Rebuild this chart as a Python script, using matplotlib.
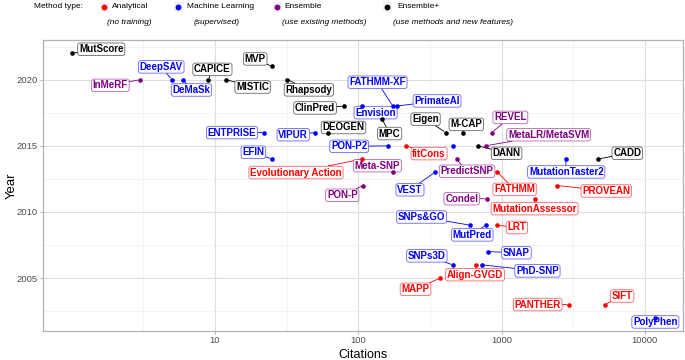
import numpy as np
import matplotlib
matplotlib.use("Agg")
import matplotlib.pyplot as plt
from matplotlib.colors import to_rgba
from matplotlib.lines import Line2D
from matplotlib.patches import Rectangle
from matplotlib.ticker import FixedLocator, NullFormatter

plt.rcParams["font.family"] = ["Liberation Sans", "DejaVu Sans"]

# data
methods = ["MutScore", "InMeRF", "DeepSAV", "DeMaSk", "CAPICE", "MISTIC", "MVP", "Rhapsody",
           "ClinPred", "Envision", "FATHMM-XF", "PrimateAI", "MPC", "ENTPRISE", "VIPUR", "DEOGEN",
           "Eigen", "M-CAP", "REVEL", "PON-P2", "fitCons", "", "DANN", "MetaLR/MetaSVM",
           "EFIN", "Evolutionary Action", "PredictSNP", "MutationTaster2", "CADD", "Meta-SNP",
           "VEST", "FATHMM", "PON-P", "PROVEAN", "Condel", "MutationAssessor", "SNPs&GO",
           "MutPred", "LRT", "SNAP", "SNPs3D", "Align-GVGD", "PhD-SNP", "MAPP", "PANTHER",
           "SIFT", "PolyPhen"]
citations = [1, 3, 5, 6, 9, 12, 25, 32,
             79, 107, 174, 185, 147, 22, 50, 61,
             408, 536, 851, 162, 215, 457, 687, 774,
             25, 106, 485, 2800, 4730, 176,
             343, 935, 108, 2450, 787, 1710, 603,
             774, 935, 805, 457, 660, 733, 372, 2950,
             5260, 11700]
years = [2022, 2020, 2020, 2020, 2020, 2020, 2021, 2020,
         2018, 2018, 2018, 2018, 2017, 2016, 2016, 2016,
         2016, 2016, 2016, 2015, 2015, 2015, 2015, 2015,
         2014, 2014, 2014, 2014, 2014, 2013,
         2013, 2013, 2012, 2012, 2011, 2011, 2009,
         2009, 2009, 2007, 2006, 2006, 2006, 2005, 2003,
         2003, 2002]
mtypes = ["Ensemble+", "Ensemble", "Machine Learning", "Machine Learning", "Ensemble+", "Ensemble+",
          "Ensemble+", "Ensemble+",
          "Ensemble+", "Machine Learning", "Machine Learning", "Machine Learning", "Ensemble+",
          "Machine Learning", "Machine Learning", "Ensemble+",
          "Ensemble+", "Ensemble+", "Ensemble", "Machine Learning", "Analytical", "Machine Learning",
          "Ensemble+", "Ensemble",
          "Machine Learning", "Analytical", "Ensemble", "Machine Learning", "Ensemble+", "Ensemble",
          "Machine Learning", "Analytical", "Ensemble", "Analytical", "Ensemble", "Analytical",
          "Machine Learning",
          "Machine Learning", "Analytical", "Machine Learning", "Machine Learning", "Analytical",
          "Machine Learning", "Analytical", "Analytical",
          "Analytical", "Machine Learning"]

type_names = ["Analytical", "Machine Learning", "Ensemble", "Ensemble+"]
type_notes = ["(no training)", "(supervised)", "(use existing methods)",
              "(use methods and new features)"]
type_colors = {"Analytical": "#FF0000", "Machine Learning": "#0000FF",
               "Ensemble": "#800080", "Ensemble+": "#000000"}

# label placement (pixels from the point, screen x right / y down), like ggrepel put them
offsets = {
    "MutScore": (29.6, -4), "InMeRF": (-29.7, 5.7), "DeepSAV": (-10.6, -12.8),
    "DeMaSk": (8.3, 10.3), "CAPICE": (4, -10.3), "MISTIC": (26.3, 7.3),
    "MVP": (-16.8, -7.5), "Rhapsody": (21.5, 10.2), "ClinPred": (-28.5, 1.8),
    "Envision": (13.1, 6.5), "FATHMM-XF": (-15.2, -23.9), "PrimateAI": (40.5, -5.2),
    "MPC": (7.4, 14.2), "ENTPRISE": (-32, 0), "VIPUR": (-21.9, 2.1),
    "DEOGEN": (16, -5.1), "Eigen": (-20.2, -13.5), "M-CAP": (3.5, -8.2),
    "REVEL": (18.8, -15.2), "PON-P2": (-39.1, 0.5), "fitCons": (23.2, 7.8),
    "DANN": (28.4, 7.5), "MetaLR/MetaSVM": (63, -11.1), "EFIN": (-18.6, -6.8),
    "Evolutionary Action": (-65.9, 13.5), "PredictSNP": (10.5, 12.2),
    "MutationTaster2": (0.6, 12.9), "CADD": (29, -5.8), "Meta-SNP": (-16.1, -6.6),
    "VEST": (-25, 17.5), "FATHMM": (17.2, 17.1), "PON-P": (-20.8, 9.8),
    "PROVEAN": (49, 5.5), "Condel": (-25, 0), "MutationAssessor": (-0.3, 9.9),
    "SNPs&GO": (-48.5, -8.2), "MutPred": (-13.4, 9.7), "LRT": (19.5, 2.3),
    "SNAP": (28.4, 1.1), "SNPs3D": (-26, -9), "Align-GVGD": (-0.7, 9.8),
    "PhD-SNP": (55.2, 6), "MAPP": (-24.5, 11.2), "PANTHER": (-31.2, 0),
    "SIFT": (17.2, -8.5), "PolyPhen": (0.7, 4.2),
}

W, H = 685, 360
fig = plt.figure(figsize=(W / 100, H / 100), dpi=100)
ax = fig.add_axes([43 / W, 29 / H, 640 / W, 291 / H])

ax.set_xscale("log")
ax.set_xlim(10 ** -0.2, 10 ** 4.266)
ax.set_ylim(2001, 2023)
ax.xaxis.set_major_locator(FixedLocator([10, 100, 1000, 10000]))
ax.set_xticklabels(["10", "100", "1000", "10000"])
ax.xaxis.set_minor_locator(FixedLocator(10 ** np.arange(0.5, 4.5, 1.0)))
ax.xaxis.set_minor_formatter(NullFormatter())
ax.set_yticks([2005, 2010, 2015, 2020])
ax.yaxis.set_minor_locator(FixedLocator(np.arange(2002.5, 2023, 5)))
ax.grid(which="major", color="#DEDEDE", lw=0.8)
ax.grid(which="minor", color="#EEEEEE", lw=0.5)
ax.set_axisbelow(True)
ax.tick_params(which="major", length=2.5, color="#B3B3B3", labelcolor="#4D4D4D",
               labelsize=6.8, pad=1.2)
ax.tick_params(which="minor", length=0)
for s in ax.spines.values():
    s.set_color("#B3B3B3")
    s.set_linewidth(0.9)
ax.set_xlabel("Citations", fontsize=9, va="bottom")
ax.xaxis.set_label_coords(0.5, -29.5 / 291)
ax.set_ylabel("Year", fontsize=9.5, va="center")
ax.yaxis.set_label_coords(-31 / 640, 0.5)

cits = np.array(citations)
yrs = np.array(years)
typ = np.array(mtypes)
for t in type_names:
    m = typ == t
    ax.scatter(cits[m], yrs[m], s=11, color=type_colors[t], zorder=5, lw=0)

for name, x, y, t in zip(methods, citations, years, mtypes):
    if not name:
        continue
    c = type_colors[t]
    dx, dy = offsets[name]
    ax.annotate(name, (x, y), xytext=(dx, -dy), textcoords="offset pixels",
                ha="center", va="center", fontsize=7, fontweight="bold", color=c, zorder=4,
                bbox=dict(boxstyle="round,pad=0.13,rounding_size=0.25", fc="white",
                          ec=to_rgba(c, 0.6), lw=0.6),
                arrowprops=dict(arrowstyle="-", color=c, lw=0.6, shrinkA=0, shrinkB=1.5))

# legend on top, drawn by hand
fy = lambda py: 1 - py / H
fig.text(34 / W, fy(7), "Method type:", fontsize=6, va="center")
keys_x = [104, 178, 277, 387]
name_x = [112, 187, 284, 397]
note_x = [107, 194, 282, 393]
for t, note, kx, nx, tx in zip(type_names, type_notes, keys_x, name_x, note_x):
    fig.add_artist(Rectangle(((kx - 4.5) / W, fy(11.5)), 9 / W, 9 / H,
                             transform=fig.transFigure, fc="#F2F2F2", ec="none"))
    fig.add_artist(Line2D([kx / W], [fy(7)], marker="o", ms=3.2, color=type_colors[t],
                          lw=0, transform=fig.transFigure))
    fig.text(nx / W, fy(7), t, fontsize=6, va="center")
    fig.text(tx / W, fy(22), note, fontsize=6, va="center", style="italic")

fig.savefig("out.png", dpi=100)
